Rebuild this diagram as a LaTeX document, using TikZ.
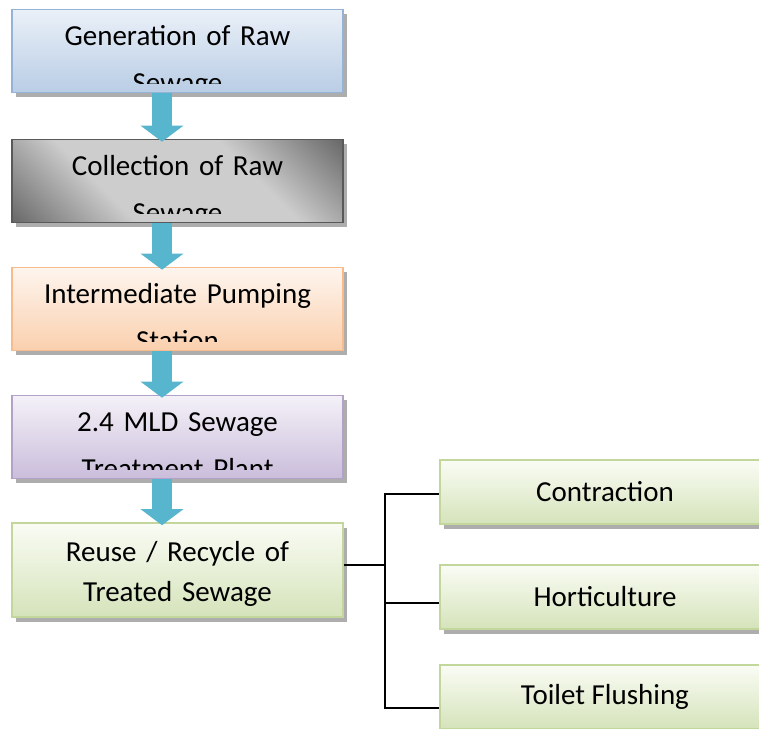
\documentclass[tikz,border=0pt]{standalone}
\usepackage{fontspec}
\setmainfont{Carlito}
\usetikzlibrary{arrows.meta,shadows}
\definecolor{bluetop}{HTML}{EAF0F8}
\definecolor{bluebot}{HTML}{B9CDE5}
\definecolor{bluebd}{HTML}{95B3D7}
\definecolor{grayin}{HTML}{CDCDCD}
\definecolor{grayout}{HTML}{6A6A6A}
\definecolor{graybd}{HTML}{595959}
\definecolor{orgtop}{HTML}{FEF5EE}
\definecolor{orgbot}{HTML}{FAD0AE}
\definecolor{orgbd}{HTML}{F7BB8C}
\definecolor{purtop}{HTML}{F4F1F8}
\definecolor{purbot}{HTML}{CABDDB}
\definecolor{purbd}{HTML}{B3A2C7}
\definecolor{grntop}{HTML}{FAFCF5}
\definecolor{grnbot}{HTML}{D5E3BA}
\definecolor{grnbd}{HTML}{C3D69B}
\definecolor{arrblue}{HTML}{58B5CE}
\definecolor{shadowgray}{HTML}{8A8A8A}
\pgfdeclareverticalshading{grayglass}{100bp}{color(0bp)=(grayout); color(15bp)=(grayout); color(36bp)=(grayin); color(64bp)=(grayin); color(85bp)=(grayout); color(100bp)=(grayout)}
\begin{document}
\begin{tikzpicture}[x=1pt,y=1pt,font=\fontsize{29}{40}\selectfont,box/.style={line width=1.6pt,minimum width=331pt,minimum height=83pt,inner sep=0pt,drop shadow={shadow xshift=4pt,shadow yshift=-5pt,fill=shadowgray,opacity=0.7}},txt/.style={anchor=base,text width=331pt,align=center,inner sep=0pt},arr/.style={line width=20pt,draw=arrblue,-{Triangle[width=42pt,length=16pt]}},link/.style={line width=1.5pt}]
\useasboundingbox (0,0) rectangle (759,728);
\node[box,draw=bluebd,top color=bluetop,bottom color=bluebot] (gen) at (177.5,677) {};
\begin{scope}
\clip (gen.north west) rectangle ([yshift=10pt]gen.south east);
\node[txt] (gen-t) at ([yshift=-37pt]gen.north) {Generation of Raw\\[7pt]Sewage};
\end{scope}
\node[box,draw=graybd,shading=grayglass,shading angle=-45] (col) at (177.5,547) {};
\begin{scope}
\clip (col.north west) rectangle ([yshift=10pt]col.south east);
\node[txt] (col-t) at ([yshift=-37pt]col.north) {Collection of Raw\\[7pt]Sewage};
\end{scope}
\node[box,draw=orgbd,top color=orgtop,bottom color=orgbot] (pump) at (177.5,419) {};
\begin{scope}
\clip (pump.north west) rectangle ([yshift=10pt]pump.south east);
\node[txt] (pump-t) at ([yshift=-37pt]pump.north) {Intermediate Pumping\\[7pt]Station};
\end{scope}
\node[box,draw=purbd,top color=purtop,bottom color=purbot] (stp) at (177.5,291) {};
\begin{scope}
\clip (stp.north west) rectangle ([yshift=10pt]stp.south east);
\node[txt] (stp-t) at ([yshift=-37pt]stp.north) {2.4 MLD Sewage\\[7pt]Treatment Plant};
\end{scope}
\node[box,draw=grnbd,top color=grntop,bottom color=grnbot,minimum height=94pt] (reuse) at (177.5,158) {};
\node[txt] (reuse-t) at ([yshift=-39pt]reuse.north) {Reuse / Recycle of\\Treated Sewage};
\node[box,draw=grnbd,top color=grntop,bottom color=grnbot,minimum width=330pt,minimum height=64pt] (con) at (605,236) {Contraction};
\node[box,draw=grnbd,top color=grntop,bottom color=grnbot,minimum width=330pt,minimum height=64pt] (hort) at (605,131) {Horticulture};
\node[box,draw=grnbd,top color=grntop,bottom color=grnbot,minimum width=330pt,minimum height=64pt] (toil) at (605,31) {Toilet Flushing};
\coordinate (ax) at (162,0);
\draw[arr] (gen.south -| ax)--([yshift=-3pt]col.north -| ax);
\draw[arr] (col.south -| ax)--([yshift=-3pt]pump.north -| ax);
\draw[arr] (pump.south -| ax)--([yshift=-3pt]stp.north -| ax);
\draw[arr] (stp.south -| ax)--([yshift=-3pt]reuse.north -| ax);
\coordinate (jt) at (385,163);
\draw[link] (reuse.east |- jt)--(jt);
\draw[link] (jt) |- ([yshift=-2pt]con.west);
\draw[link] (jt) |- ([yshift=-6pt]hort.west);
\draw[link] (jt) |- ([yshift=-11pt]toil.west);
\end{tikzpicture}
\end{document}
